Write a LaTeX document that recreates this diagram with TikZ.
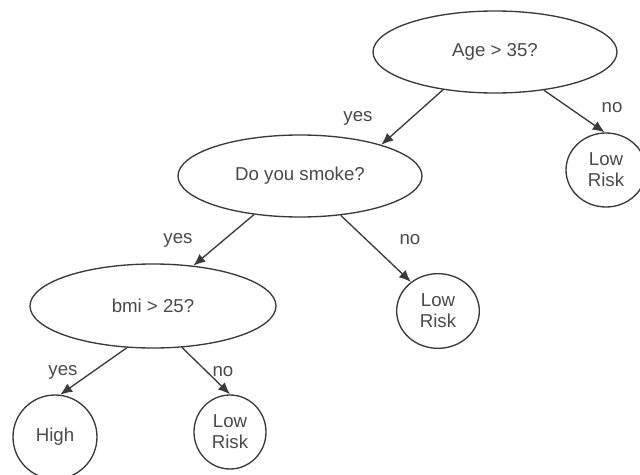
\documentclass[tikz,border=0pt]{standalone}
\usepackage{fontspec}
\setmainfont{Liberation Sans}
\usetikzlibrary{shapes.geometric,arrows.meta}
\definecolor{inkline}{HTML}{3A3A3A}
\definecolor{inktext}{HTML}{4A4A4A}
\begin{document}
\begin{tikzpicture}[x=0.75pt,y=-0.75pt,
  every node/.style={font=\fontsize{14pt}{15.75pt}\selectfont, text=inktext},
  decision/.style={ellipse, draw=inkline, line width=1pt, inner sep=0pt,
    minimum width=183pt, minimum height=61.5pt},
  leaf/.style={ellipse, draw=inkline, line width=1pt, inner sep=0pt, align=center},
  branch/.style={draw=inkline, line width=1pt, -{Latex[length=9pt,width=7.5pt]}},
  tag/.style={inner sep=0pt}]
  \fill[white] (0,0) rectangle (640,475);
  \useasboundingbox (0,0) rectangle (640,475);

  % decision nodes
  \node[decision] (age)   at (495,52)  {Age > 35?};
  \node[decision] (smoke) at (300,176) {Do you smoke?};
  \node[decision, minimum width=184.5pt, minimum height=63pt] (bmi) at (153,306) {bmi > 25?};

  % leaves
  \node[leaf, minimum width=60pt, minimum height=55.5pt] (lowA) at (606,170) {Low\\Risk};
  \node[leaf, minimum width=62pt, minimum height=56pt]   (lowB) at (438,311) {Low\\Risk};
  \node[leaf, minimum width=54pt, minimum height=55.5pt] (lowC) at (230,432) {Low\\Risk};
  \node[leaf, minimum width=63pt, minimum height=63pt]   (high) at (55,437)  {High};

  % branches
  \draw[branch] (age.216)   -- (smoke.21);
  \draw[branch] (age.322)   -- (lowA.92);
  \draw[branch] (smoke.220) -- (bmi.45);
  \draw[branch] (smoke.316) -- (lowB.133);
  \draw[branch] (bmi.238)   -- (high.83);
  \draw[branch] (bmi.305)   -- (lowC.90);

  % branch labels
  \node[tag] (yesA) at (358,118) {yes};
  \node[tag] (noA)  at (612,108) {no};
  \node[tag] (yesB) at (178,240) {yes};
  \node[tag] (noB)  at (410,240) {no};
  \node[tag] (yesC) at (63,372)  {yes};
  \node[tag] (noC)  at (223,372) {no};
\end{tikzpicture}
\end{document}
